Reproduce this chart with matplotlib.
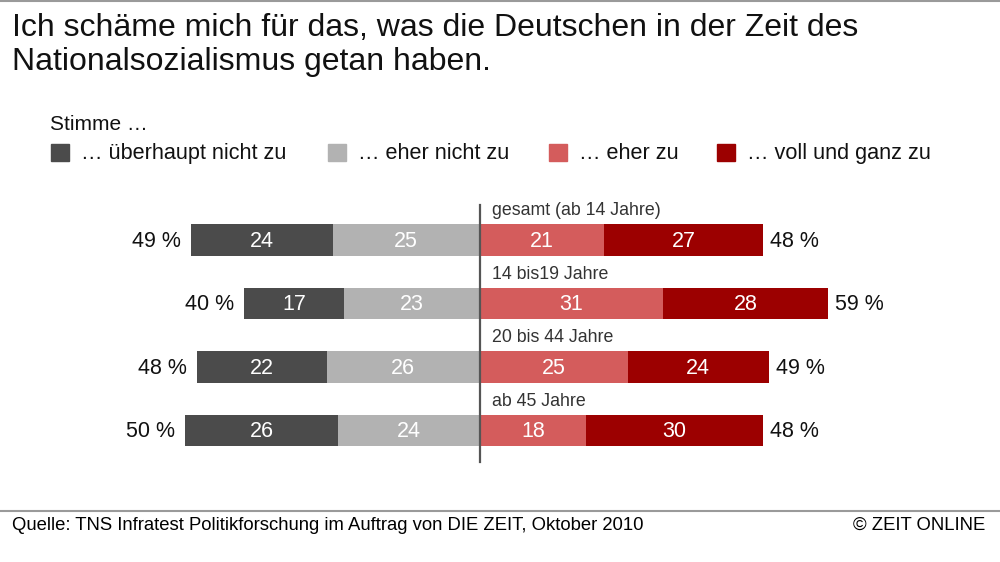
import matplotlib
matplotlib.use("Agg")
import matplotlib.pyplot as plt
from matplotlib import font_manager
from matplotlib.patches import Rectangle

# data
groups = ["gesamt (ab 14 Jahre)", "14 bis19 Jahre", "20 bis 44 Jahre", "ab 45 Jahre"]
gar_nicht = [24, 17, 22, 26]
eher_nicht = [25, 23, 26, 24]
eher_zu = [21, 31, 25, 18]
voll_zu = [27, 28, 24, 30]
legend_labels = ["… überhaupt nicht zu", "… eher nicht zu", "… eher zu", "… voll und ganz zu"]
colors = ["#4b4b4b", "#b2b2b2", "#d45c5c", "#9c0000"]

title = "Ich schäme mich für das, was die Deutschen in der Zeit des\nNationalsozialismus getan haben."
source = "Quelle: TNS Infratest Politikforschung im Auftrag von DIE ZEIT, Oktober 2010"
credit = "© ZEIT ONLINE"

names = {f.name for f in font_manager.fontManager.ttflist}
narrow = "Liberation Sans Narrow" if "Liberation Sans Narrow" in names else "Liberation Sans"
plt.rcParams['font.family'] = ['Liberation Sans', 'DejaVu Sans']

W, H = 1000, 562
fig = plt.figure(figsize=(10, 5.62), dpi=100)
fig.patch.set_facecolor("white")

# axes covering whole figure; x in percent units, y in row index
ppu = 5.9          # pixels per percent
zero_px = 480
row0_px, row_step = 240, 63.5
ax = fig.add_axes([0, 0, 1, 1])
ax.set_xlim(-zero_px / ppu, (W - zero_px) / ppu)
ax.set_ylim((H - row0_px) / row_step, -row0_px / row_step)
ax.axis("off")

bh = 0.49
for i, g in enumerate(groups):
    a, b, c, d = gar_nicht[i], eher_nicht[i], eher_zu[i], voll_zu[i]
    ax.barh(i, -b, left=0, height=bh, color=colors[1])
    ax.barh(i, -a, left=-b, height=bh, color=colors[0])
    ax.barh(i, c, left=0, height=bh, color=colors[2])
    ax.barh(i, d, left=c, height=bh, color=colors[3])
    for x, v in [(-b - a / 2, a), (-b / 2, b), (c / 2, c), (c + d / 2, d)]:
        ax.text(x, i + 0.02, str(v), ha="center", va="center", color="white", fontsize=15.5)
    ax.text(-(a + b) - 1.7, i + 0.02, f"{a + b} %", ha="right", va="center", color="#111", fontsize=15.5)
    ax.text(c + d + 1.2, i + 0.02, f"{c + d} %", ha="left", va="center", color="#111", fontsize=15.5)
    ax.text(2.1, i - 0.46, g, ha="left", va="center", color="#333", fontsize=12.8)

# centre line
ax.plot([0, 0], [-0.55, 3.5], color="#555555", lw=1.6)

# title
fig.text(12 / W, 1 - 13 / H, title, ha="left", va="top", fontsize=23, color="#111",
         linespacing=1.17)

# legend
fig.text(50 / W, 1 - 124 / H, "Stimme …", ha="left", va="center", fontsize=15, color="#111")
sq_x = [51, 328, 549, 717]
for k, lab in enumerate(legend_labels):
    fig.patches.append(Rectangle((sq_x[k] / W, 1 - 161 / H), 18 / W, 17 / H,
                                 transform=fig.transFigure, color=colors[k]))
    fig.text((sq_x[k] + 30) / W, 1 - 153 / H, lab, ha="left", va="center", fontsize=15.6, color="#111")

# frame lines
fig.add_artist(plt.Line2D([0, 1], [1 - 1 / H, 1 - 1 / H], color="#9a9a9a", lw=1.5))
fig.add_artist(plt.Line2D([0, 1], [1 - 511 / H, 1 - 511 / H], color="#9a9a9a", lw=1.5))

# footer
fig.text(12 / W, 1 - 525 / H, source, ha="left", va="center", fontsize=13.3, color="#000",
         family=[narrow, 'DejaVu Sans'])
fig.text(985 / W, 1 - 525 / H, credit, ha="right", va="center", fontsize=13.3, color="#000",
         family=[narrow, 'DejaVu Sans'])

fig.savefig("out.png", dpi=100, facecolor="white")
